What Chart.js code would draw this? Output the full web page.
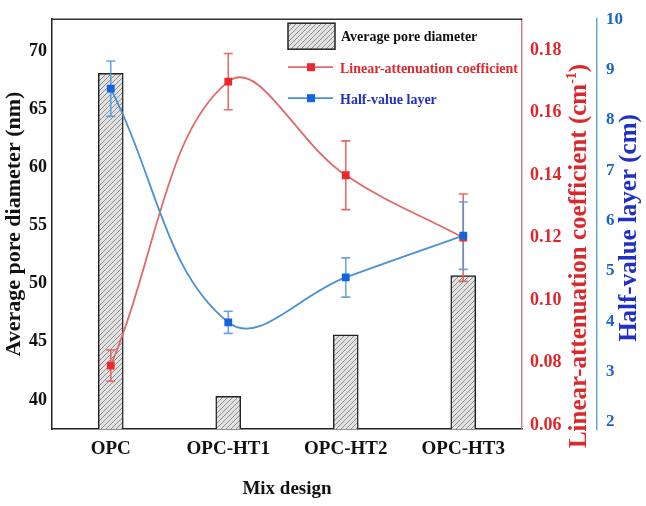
<!DOCTYPE html>
<html>
<head>
<meta charset="utf-8">
<script src="https://cdn.jsdelivr.net/npm/chart.js@4.4.1/dist/chart.umd.min.js"></script>
<style>
  html, body { margin: 0; padding: 0; background: #fff; }
  #wrap { width: 646px; height: 506px; }
</style>
</head>
<body>
<div id="wrap"><canvas id="grafico"></canvas></div>
<script>
// valores
const mixDesign = ['OPC', 'OPC-HT1', 'OPC-HT2', 'OPC-HT3'];
const poreDiameter = [68.1, 40.3, 45.6, 50.7];        // nm
const attenuation = [0.079, 0.170, 0.140, 0.120];      // cm-1
const attenuationErr = [0.005, 0.009, 0.011, 0.014];
const halfValue = [8.62, 3.98, 4.87, 5.70];            // cm
const halfValueErr = [0.55, 0.22, 0.39, 0.67];

const poreTicks = [40, 45, 50, 55, 60, 65, 70];
const attenTicks = [0.06, 0.08, 0.10, 0.12, 0.14, 0.16, 0.18];
const hvlTicks = [2, 3, 4, 5, 6, 7, 8, 9, 10];

const SERIF = "'Liberation Serif', 'Times New Roman', serif";
const RED_LINE = 'rgb(226,104,104)';
const RED_MARK = 'rgb(236,40,44)';
const RED_TEXT = 'rgb(220,40,44)';
const BLUE_LINE = 'rgb(74,144,212)';
const BLUE_MARK = 'rgb(20,100,222)';
const BLUE_TEXT = 'rgb(32,48,196)';

function bold(size) {
  return { family: SERIF, size: size, weight: 'bold' };
}

// padrão hachurado das barras
function makeHatch() {
  const c = document.createElement('canvas');
  c.width = 5; c.height = 5;
  const g = c.getContext('2d');
  g.fillStyle = '#e2e2e2';
  g.fillRect(0, 0, 5, 5);
  g.strokeStyle = '#8c8c8c';
  g.lineWidth = 1;
  g.beginPath();
  g.moveTo(0, 5); g.lineTo(5, 0);
  g.moveTo(-1, 1); g.lineTo(1, -1);
  g.moveTo(4, 6); g.lineTo(6, 4);
  g.stroke();
  return g.createPattern(c, 'repeat');
}
const hatch = makeHatch();

// barras de erro, desenhadas logo depois das barras
const errorBars = {
  id: 'errorBars',
  afterDatasetDraw(chart, args) {
    if (args.index !== 0) return;
    const ctx = chart.ctx;
    const xs = chart.scales.x;
    const series = [
      [attenuation, attenuationErr, 'y1', 'rgba(222,92,92,0.9)'],
      [halfValue, halfValueErr, 'y2', 'rgba(84,148,216,0.85)']
    ];
    series.forEach(([vals, errs, axis, color]) => {
      const ys = chart.scales[axis];
      ctx.save();
      ctx.strokeStyle = color;
      ctx.lineWidth = 1.6;
      vals.forEach((v, i) => {
        const x = xs.getPixelForValue(i);
        const top = ys.getPixelForValue(v + errs[i]);
        const bot = ys.getPixelForValue(v - errs[i]);
        ctx.beginPath();
        ctx.moveTo(x, top); ctx.lineTo(x, bot);
        ctx.moveTo(x - 4.5, top); ctx.lineTo(x + 4.5, top);
        ctx.moveTo(x - 4.5, bot); ctx.lineTo(x + 4.5, bot);
        ctx.stroke();
      });
      ctx.restore();
    });
  }
};

function drawVertical(ctx, parts, x, y, color) {
  ctx.save();
  ctx.translate(x, y);
  ctx.rotate(-Math.PI / 2);
  ctx.fillStyle = color;
  ctx.textBaseline = 'middle';
  ctx.textAlign = 'left';
  let total = 0;
  parts.forEach(p => { ctx.font = p.font; p.w = ctx.measureText(p.text).width; total += p.w; });
  let cx = -total / 2;
  parts.forEach(p => { ctx.font = p.font; ctx.fillText(p.text, cx, p.dy || 0); cx += p.w; });
  ctx.restore();
}

// moldura de cima, legenda e títulos dos eixos da direita
const extras = {
  id: 'extras',
  afterDraw(chart) {
    const { ctx, chartArea: a } = chart;
    ctx.save();
    ctx.strokeStyle = '#333';
    ctx.lineWidth = 1.5;
    ctx.beginPath();
    ctx.moveTo(a.left, a.top);
    ctx.lineTo(a.right, a.top);
    ctx.stroke();

    // legenda
    const lx = a.left + 236;
    const ly = a.top + 4;
    ctx.fillStyle = hatch;
    ctx.fillRect(lx, ly, 47, 26);
    ctx.strokeStyle = '#222';
    ctx.strokeRect(lx, ly, 47, 26);
    ctx.font = `bold 14px ${SERIF}`;
    ctx.textBaseline = 'middle';
    ctx.textAlign = 'left';
    ctx.fillStyle = '#111';
    ctx.fillText('Average pore diameter', lx + 53, ly + 14);

    [[RED_LINE, RED_MARK, RED_TEXT, 'Linear-attenuation coefficient', ly + 44],
     [BLUE_LINE, BLUE_MARK, BLUE_TEXT, 'Half-value layer', ly + 75]].forEach(([lc, mc, tc, txt, yy]) => {
      ctx.strokeStyle = lc;
      ctx.lineWidth = 1.8;
      ctx.beginPath();
      ctx.moveTo(lx, yy); ctx.lineTo(lx + 45, yy);
      ctx.stroke();
      ctx.fillStyle = mc;
      ctx.fillRect(lx + 19, yy - 4, 8, 8);
      ctx.fillStyle = tc;
      ctx.fillText(txt, lx + 52, yy + 2);
    });
    ctx.restore();

    drawVertical(ctx, [
      { text: 'Linear-attenuation coefficient (cm', font: `bold 25px ${SERIF}` },
      { text: '-1', font: `bold 14px ${SERIF}`, dy: -8 },
      { text: ')', font: `bold 25px ${SERIF}` }
    ], 580, 256, RED_TEXT);
    drawVertical(ctx, [
      { text: 'Half-value layer (cm)', font: `bold 25px ${SERIF}` }
    ], 630, 228, BLUE_TEXT);
  }
};

new Chart(document.getElementById('grafico'), {
  data: {
    labels: mixDesign,
    datasets: [
      {
        type: 'bar',
        label: 'Average pore diameter',
        data: poreDiameter,
        yAxisID: 'y',
        backgroundColor: hatch,
        borderColor: '#222',
        borderWidth: 1.5,
        barThickness: 25,
        order: 3
      },
      {
        type: 'line',
        label: 'Linear-attenuation coefficient',
        data: attenuation,
        yAxisID: 'y1',
        borderColor: RED_LINE,
        borderWidth: 1.8,
        tension: 0.4,
        fill: false,
        pointStyle: 'rect',
        pointRadius: 5.5,
        pointBorderWidth: 0,
        pointBackgroundColor: RED_MARK,
        order: 2
      },
      {
        type: 'line',
        label: 'Half-value layer',
        data: halfValue,
        yAxisID: 'y2',
        borderColor: BLUE_LINE,
        borderWidth: 1.8,
        tension: 0.4,
        fill: false,
        pointStyle: 'rect',
        pointRadius: 5.5,
        pointBorderWidth: 0,
        pointBackgroundColor: BLUE_MARK,
        order: 1
      }
    ]
  },
  options: {
    responsive: true,
    maintainAspectRatio: false,
    animation: false,
    layout: { padding: { top: 19, left: 0, right: 0, bottom: 0 } },
    plugins: {
      legend: { display: false },
      tooltip: { enabled: false }
    },
    scales: {
      x: {
        position: 'bottom',
        grid: { display: false, drawTicks: false },
        border: { color: '#222', width: 1.5 },
        ticks: { color: '#111', font: bold(19), padding: 9 },
        title: { display: true, text: 'Mix design', color: '#111', font: bold(19), padding: { top: 0, bottom: 6 } },
        afterFit: s => { s.height = 77; }
      },
      y: {
        position: 'left',
        min: 37.5,
        max: 72.75,
        grid: { display: false, drawTicks: false },
        border: { color: '#222', width: 1.5 },
        ticks: { color: '#111', font: bold(18), padding: 5 },
        afterBuildTicks: s => { s.ticks = poreTicks.map(v => ({ value: v })); },
        title: { display: true, text: 'Average pore diameter (nm)', color: '#111', font: bold(22), padding: { top: 1, bottom: 0 } },
        afterFit: s => { s.width = 52; }
      },
      y1: {
        position: 'right',
        min: 0.0587,
        max: 0.19,
        grid: { display: false, drawTicks: false },
        border: { color: 'rgb(214,128,128)', width: 1.5 },
        ticks: { color: RED_TEXT, font: bold(18), padding: 8, callback: v => v.toFixed(2) },
        afterBuildTicks: s => { s.ticks = attenTicks.map(v => ({ value: v })); },
        afterFit: s => { s.width = 75; }
      },
      y2: {
        position: 'right',
        min: 1.86,
        max: 10,
        grid: { display: false, drawTicks: false },
        border: { color: 'rgb(108,164,214)', width: 1.5 },
        ticks: { color: 'rgb(28,100,200)', font: bold(17), padding: 9 },
        afterBuildTicks: s => { s.ticks = hvlTicks.map(v => ({ value: v })); },
        afterFit: s => { s.width = 49; }
      }
    }
  },
  plugins: [errorBars, extras]
});
</script>
</body>
</html>
